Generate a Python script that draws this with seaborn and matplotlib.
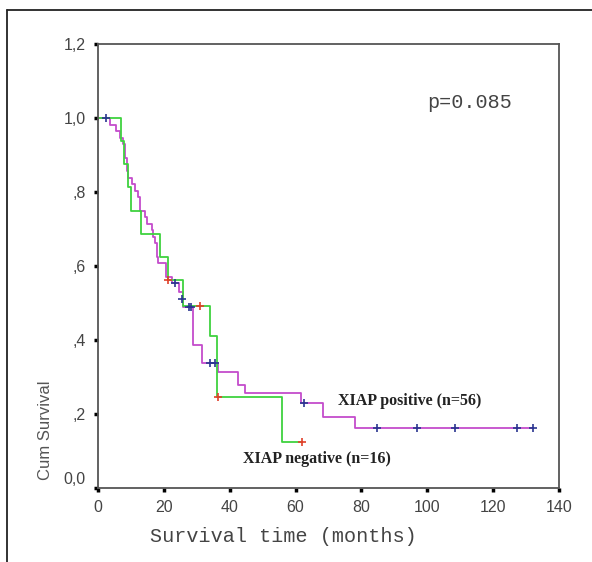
import matplotlib
matplotlib.use("Agg")
import matplotlib.pyplot as plt
from matplotlib.lines import Line2D
from matplotlib.transforms import ScaledTranslation
import seaborn as sns
import pandas as pd

# ---- data ----
pos_time = [0, 3.6, 5.5, 6.7, 7.5, 8.2, 8.8, 9.2, 10.2, 11.2, 12.2, 12.8, 14.3, 14.8,
            16.3, 16.8, 17.3, 17.8, 18.3, 20.8, 22.5, 24.5, 25.8, 29.0, 31.5, 36.5,
            42.6, 44.6, 61.5, 68.4, 78.0, 132.2]
pos_surv = [1.0, 0.982, 0.964, 0.946, 0.929, 0.893, 0.857, 0.839, 0.821, 0.804, 0.786,
            0.750, 0.732, 0.714, 0.696, 0.679, 0.661, 0.625, 0.607, 0.571, 0.553, 0.530,
            0.490, 0.386, 0.337, 0.314, 0.278, 0.256, 0.229, 0.193, 0.161, 0.161]
pos_cens_time = [2.3, 23.4, 25.4, 27.5, 28.3, 34.0, 35.5, 62.6, 84.6, 96.8, 108.4, 127.3, 132.2]
pos_cens_surv = [1.0, 0.553, 0.510, 0.490, 0.490, 0.337, 0.337, 0.229, 0.161, 0.161, 0.161, 0.161, 0.161]

neg_time = [0, 7.1, 8.0, 9.0, 10.0, 13.0, 18.8, 21.2, 25.8, 34.0, 36.0, 55.8, 61.9]
neg_surv = [1.0, 0.9375, 0.875, 0.8125, 0.75, 0.6875, 0.625, 0.5625, 0.492, 0.410,
            0.246, 0.123, 0.123]
neg_cens_time = [21.4, 31.0, 36.5, 61.9]
neg_cens_surv = [0.5625, 0.492, 0.246, 0.123]

x_ticks = [0, 20, 40, 60, 80, 100, 120, 140]
y_ticks = [0.0, 0.2, 0.4, 0.6, 0.8, 1.0, 1.2]
y_tick_labels = ["0,0", ",2", ",4", ",6", ",8", "1,0", "1,2"]

pos_label = "XIAP positive (n=56)"
neg_label = "XIAP negative (n=16)"
p_text = "p=0.085"
x_title = "Survival time (months)"
y_title = "Cum Survival"

# ---- styling ----
sns.set_style("white")
plt.rcParams["font.family"] = ["Liberation Sans", "DejaVu Sans"]

W, H = 592, 562
fig = plt.figure(figsize=(W / 100, H / 100), dpi=100)
ax = fig.add_axes([98 / W, 1 - 488 / H, (559 - 98) / W, (488 - 44) / H])

magenta = "#c44ccc"
green = "#3fd23f"

pos_df = pd.DataFrame({"t": pos_time, "s": pos_surv})
neg_df = pd.DataFrame({"t": neg_time, "s": neg_surv})
sns.lineplot(data=pos_df, x="t", y="s", drawstyle="steps-post", estimator=None,
             sort=False, color=magenta, linewidth=1.3, ax=ax)
sns.lineplot(data=neg_df, x="t", y="s", drawstyle="steps-post", estimator=None,
             sort=False, color=green, linewidth=1.3, ax=ax)

pc = pd.DataFrame({"t": pos_cens_time, "s": pos_cens_surv})
nc = pd.DataFrame({"t": neg_cens_time, "s": neg_cens_surv})
sns.scatterplot(data=pc, x="t", y="s", marker="+", s=40, color="#2a3590",
                linewidth=1.2, ax=ax, zorder=5)
sns.scatterplot(data=nc, x="t", y="s", marker="+", s=40, color="#e0402a",
                linewidth=1.2, ax=ax, zorder=5)

ax.set_xlim(0, 140)
ax.set_ylim(0, 1.2)
ax.set_xticks(x_ticks)
ax.set_xticklabels([str(v) for v in x_ticks])
ax.set_yticks(y_ticks)
ax.set_yticklabels(y_tick_labels)
ax.set_xlabel("")
ax.set_ylabel("")
ax.tick_params(axis="both", which="major", direction="out", length=3, width=2.5,
               color="black", labelsize=11.5, labelcolor="#444444", pad=6,
               left=True, bottom=True)
# the 0,0 label sits slightly above the axis in the reference
lbl0 = ax.get_yticklabels()[0]
lbl0.set_transform(lbl0.get_transform() + ScaledTranslation(0, 10 / 100, fig.dpi_scale_trans))

for side in ["left", "right", "top", "bottom"]:
    ax.spines[side].set_visible(True)
    ax.spines[side].set_color("#555555")
    ax.spines[side].set_linewidth(1.3)

# texts
fig.text(427 / W, 1 - 103 / H, p_text, fontsize=14.5, family="Liberation Mono",
         color="#444444", va="center", ha="left")
fig.text(338 / W, 1 - 401 / H, pos_label, fontsize=11.5, family="Liberation Serif",
         weight="bold", color="#222222", va="center", ha="left")
fig.text(243 / W, 1 - 459 / H, neg_label, fontsize=11.5, family="Liberation Serif",
         weight="bold", color="#222222", va="center", ha="left")
fig.text(150 / W, 1 - 537 / H, x_title, fontsize=14.5, family="Liberation Mono",
         color="#444444", va="center", ha="left")
fig.text(45 / W, 1 - 430 / H, y_title, fontsize=12, rotation=90,
         color="#555555", va="center", ha="center")

# outer frame (top and left)
fig.add_artist(Line2D([7 / W, 1.0], [1 - 10 / H, 1 - 10 / H], transform=fig.transFigure,
                      color="#222222", linewidth=1.3))
fig.add_artist(Line2D([7 / W, 7 / W], [0, 1 - 10 / H], transform=fig.transFigure,
                      color="#222222", linewidth=1.3))

fig.savefig("out.png", dpi=100)
